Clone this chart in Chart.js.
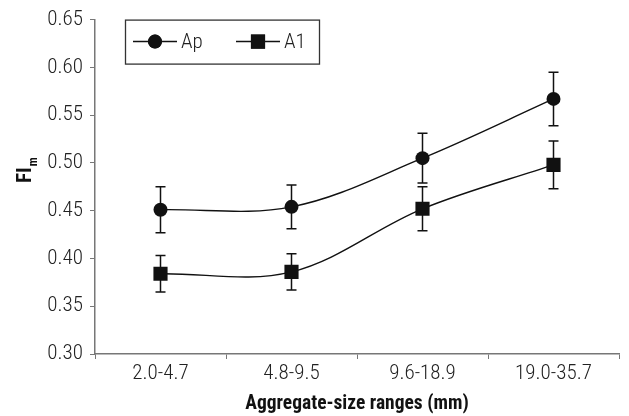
<!DOCTYPE html>
<html>
<head>
<meta charset="utf-8">
<script src="https://cdn.jsdelivr.net/npm/chart.js@4/dist/chart.umd.min.js"></script>
<style>
  html, body { margin: 0; padding: 0; background: #fff; }
  #wrap { width: 629px; height: 416px; }
</style>
</head>
<body>
<div id="wrap"><canvas id="fiChart"></canvas></div>
<script>
// aggregate-size classes (mm)
const categories = ['2.0-4.7', '4.8-9.5', '9.6-18.9', '19.0-35.7'];

// FIm means and error-bar half lengths
const apValues = [0.451, 0.454, 0.505, 0.567];
const apErrors = [0.024, 0.023, 0.026, 0.028];
const a1Values = [0.384, 0.386, 0.452, 0.498];
const a1Errors = [0.019, 0.019, 0.023, 0.025];

const yTicks = [0.30, 0.35, 0.40, 0.45, 0.50, 0.55, 0.60, 0.65];

// Roboto with its width axis pulled in, close to a condensed Helvetica
const FONT = 'Roboto';
const INK = '#111';
const AXIS = '#777';

// vertical error bars with small caps, under the markers
const errorBars = {
  id: 'errorBars',
  beforeDatasetsDraw: function (chart) {
    const ctx = chart.ctx;
    const y = chart.scales.y;
    ctx.save();
    ctx.strokeStyle = INK;
    ctx.lineWidth = 1.5;
    chart.data.datasets.forEach(function (ds, i) {
      chart.getDatasetMeta(i).data.forEach(function (pt, j) {
        const top = y.getPixelForValue(ds.data[j] + ds.errors[j]);
        const bot = y.getPixelForValue(ds.data[j] - ds.errors[j]);
        ctx.beginPath();
        ctx.moveTo(pt.x, top); ctx.lineTo(pt.x, bot);
        ctx.moveTo(pt.x - 5, top); ctx.lineTo(pt.x + 5, top);
        ctx.moveTo(pt.x - 5, bot); ctx.lineTo(pt.x + 5, bot);
        ctx.stroke();
      });
    });
    ctx.restore();
  }
};

// boxed legend inside the plot, top left
const boxLegend = {
  id: 'boxLegend',
  afterDraw: function (chart) {
    const ctx = chart.ctx;
    const area = chart.chartArea;
    const left = area.left + 30;
    const top = area.top;
    ctx.save();
    ctx.fillStyle = '#fff';
    ctx.fillRect(left, top, 194, 44);
    ctx.strokeStyle = '#333';
    ctx.lineWidth = 1.3;
    ctx.strokeRect(left + 0.5, top + 0.5, 194, 44);
    const cy = top + 22;
    chart.data.datasets.forEach(function (ds, i) {
      const x0 = left + 8 + i * 103;
      ctx.strokeStyle = INK;
      ctx.lineWidth = 1.5;
      ctx.beginPath();
      ctx.moveTo(x0, cy); ctx.lineTo(x0 + 44, cy);
      ctx.stroke();
      ctx.fillStyle = INK;
      Chart.helpers.drawPoint(ctx, {
        pointStyle: ds.pointStyle,
        radius: ds.pointRadius,
        rotation: 0,
        borderWidth: 0
      }, x0 + 22, cy);
      ctx.fill();
      ctx.fillStyle = '#222';
      ctx.font = '300 condensed 21px ' + FONT;
      ctx.textBaseline = 'middle';
      ctx.textAlign = 'left';
      ctx.fillText(ds.label, x0 + 48, cy + 1);
    });
    ctx.restore();
  }
};

// rotated "FI" with subscript m
const yTitle = {
  id: 'yTitle',
  afterDraw: function (chart) {
    const ctx = chart.ctx;
    ctx.save();
    ctx.translate(31, 183);
    ctx.rotate(-Math.PI / 2);
    ctx.fillStyle = '#111';
    ctx.textBaseline = 'alphabetic';
    ctx.textAlign = 'left';
    ctx.font = 'bold condensed 21px ' + FONT;
    ctx.fillText('FI', 0, 0);
    const w = ctx.measureText('FI').width;
    ctx.font = 'bold condensed 12px ' + FONT;
    ctx.fillText('m', w + 1, 6);
    ctx.restore();
  }
};

const chart = new Chart(document.getElementById('fiChart'), {
  type: 'line',
  data: {
    labels: categories,
    datasets: [{
      label: 'Ap',
      data: apValues,
      errors: apErrors,
      borderColor: INK,
      backgroundColor: INK,
      borderWidth: 1.4,
      pointStyle: 'circle',
      pointRadius: 7,
      pointBorderWidth: 0,
      tension: 0.35
    }, {
      label: 'A1',
      data: a1Values,
      errors: a1Errors,
      borderColor: INK,
      backgroundColor: INK,
      borderWidth: 1.4,
      pointStyle: 'rect',
      pointRadius: 10,
      pointBorderWidth: 0,
      tension: 0.35
    }]
  },
  options: {
    responsive: true,
    maintainAspectRatio: false,
    animation: false,
    layout: { padding: { top: 18, right: 1, left: 0, bottom: 0 } },
    plugins: {
      legend: { display: false },
      tooltip: { enabled: false }
    },
    scales: {
      x: {
        offset: true,
        grid: { display: true, drawOnChartArea: false, offset: true, tickLength: 5, color: AXIS },
        border: { display: true, color: AXIS, width: 1.5 },
        ticks: { color: '#222', font: { family: FONT, size: 21, weight: '300 condensed' }, padding: 2, maxRotation: 0 },
        title: {
          display: true,
          text: 'Aggregate-size ranges (mm)',
          color: '#111',
          font: { family: FONT, size: 19.5, weight: 'bold condensed' },
          padding: { top: 2, bottom: 0 }
        },
        afterFit: function (scale) {
          scale.height = 62;
          scale.paddingLeft = 0;
          scale.paddingRight = 0;
        }
      },
      y: {
        min: 0.30,
        max: 0.65,
        afterBuildTicks: function (scale) {
          scale.ticks = yTicks.map(function (v) { return { value: v }; });
        },
        grid: { display: true, drawOnChartArea: false, tickLength: 5, color: AXIS },
        border: { display: true, color: AXIS, width: 1.5 },
        ticks: {
          color: '#222',
          font: { family: FONT, size: 21, weight: '300 condensed' },
          padding: 7,
          callback: function (v) { return Number(v).toFixed(2); }
        },
        afterFit: function (scale) { scale.width = 95; }
      }
    }
  },
  plugins: [errorBars, boxLegend, yTitle]
});
</script>
</body>
</html>
